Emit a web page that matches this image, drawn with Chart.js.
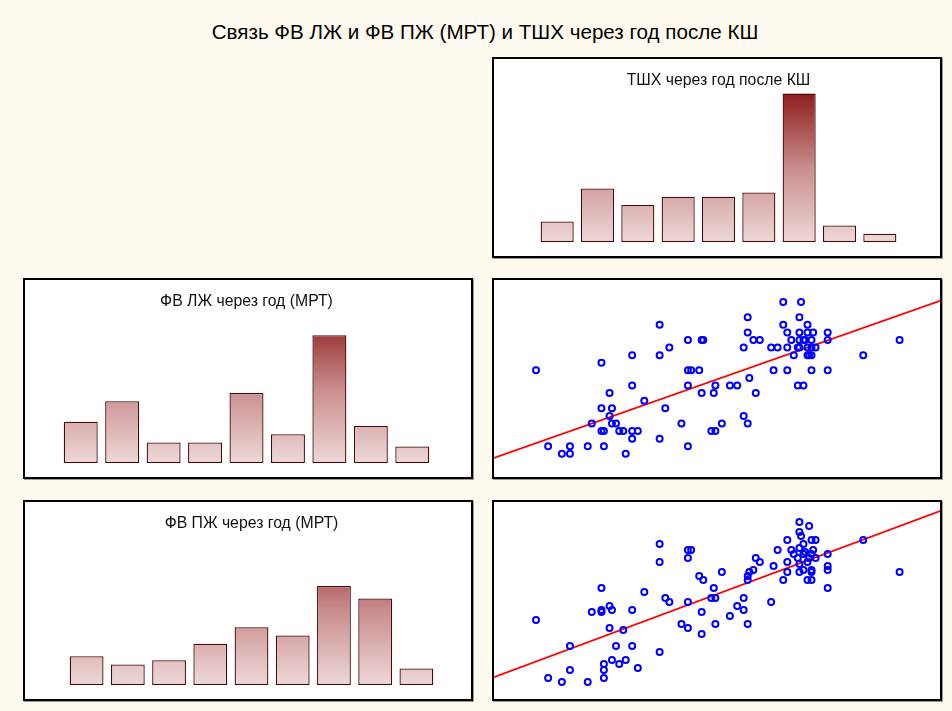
<!DOCTYPE html>
<html>
<head>
<meta charset="utf-8">
<script src="https://cdn.jsdelivr.net/npm/chart.js@4"></script>
<style>
  body { margin: 0; background: #fefaef; font-family: "Liberation Sans", Arial, sans-serif; }
  #page { position: relative; width: 952px; height: 711px; }
  #mainTitle { position: absolute; left: 0; top: 20px; width: 970px; text-align: center; font-size: 20.6px; line-height: 24px; color: #000; }
  .panel { position: absolute; width: 446px; height: 197px; border: 2px solid #000; background: #fff; box-shadow: 1px 1px 0 #9a9a9a; }
  .panel canvas { display: block; }
</style>
</head>
<body>
<div id="page">
  <div id="mainTitle">Связь ФВ ЛЖ и ФВ ПЖ (МРТ) и ТШХ через год после КШ</div>
  <div class="panel" style="left:492px; top:57px;"><canvas id="histTshx" width="446" height="197"></canvas></div>
  <div class="panel" style="left:23px; top:278px;"><canvas id="histLv" width="446" height="197"></canvas></div>
  <div class="panel" style="left:492px; top:278px;"><canvas id="scatLv" width="446" height="197"></canvas></div>
  <div class="panel" style="left:23px; top:500px;"><canvas id="histRv" width="446" height="197"></canvas></div>
  <div class="panel" style="left:492px; top:500px;"><canvas id="scatRv" width="446" height="197"></canvas></div>
</div>
<script>
// histogram bins (counts per bin)
var tshxBins = ['150-200', '200-250', '250-300', '300-350', '350-400', '400-450', '450-500', '500-550', '550-600'];
var tshxCounts = [5, 13, 9, 11, 11, 12, 36, 4, 2];
var lvBins = ['30-34', '34-39', '39-43', '43-48', '48-52', '52-57', '57-61', '61-66', '66-70'];
var lvCounts = [10, 15, 5, 5, 17, 7, 31, 9, 4];
var rvBins = ['20-24', '24-29', '29-33', '33-38', '38-42', '42-47', '47-51', '51-56', '56-60'];
var rvCounts = [7, 5, 6, 10, 14, 12, 24, 21, 4];

// ТШХ (м) для каждого пациента, ФВ ЛЖ (%)
var lvX = [150, 165, 182, 192, 192, 214, 219, 231, 231, 231, 234, 234, 241, 241, 244, 244, 249, 253, 258, 261,
  269, 269, 269, 269, 276, 284, 303, 303, 303, 310, 315, 330, 338, 338, 342, 338, 338, 352, 355, 357,
  355, 367, 370, 372, 372, 380, 390, 399, 407, 407, 412, 412, 412, 414, 419, 422, 427, 441, 444, 449,
  456, 456, 461, 461, 461, 466, 469, 474, 476, 474, 476, 476, 476, 478, 481, 481, 483, 486, 486, 486,
  488, 486, 491, 491, 491, 493, 491, 496, 511, 511, 511, 555, 600];
var lvY = [52, 32, 30, 32, 30, 32, 38, 54, 42, 36, 36, 32, 46, 40, 42, 38, 38, 36, 36, 30,
  56, 48, 36, 34, 36, 44, 64, 56, 34, 42, 58, 38, 60, 52, 52, 48, 32, 52, 60, 60,
  46, 36, 46, 48, 36, 38, 48, 48, 58, 40, 66, 62, 38, 50, 60, 46, 60, 58, 52, 58,
  70, 64, 62, 58, 52, 60, 56, 58, 58, 48, 66, 62, 60, 70, 48, 60, 60, 64, 62, 58,
  56, 56, 60, 56, 52, 62, 58, 58, 62, 60, 52, 56, 60];

// ТШХ (м), ФВ ПЖ (%)
var rvX = [150, 165, 182, 192, 192, 214, 219, 231, 231, 231, 234, 234, 234, 241, 241, 244, 244, 249, 253, 258,
  261, 269, 269, 276, 284, 303, 303, 303, 310, 315, 330, 338, 342, 338, 338, 338, 352, 357, 355, 355,
  370, 367, 372, 372, 380, 390, 399, 407, 407, 412, 412, 412, 414, 419, 422, 427, 441, 444, 449, 456,
  461, 461, 461, 466, 469, 474, 476, 476, 476, 476, 476, 478, 481, 481, 481, 483, 486, 486, 488, 488,
  491, 491, 491, 491, 491, 493, 496, 496, 511, 511, 511, 511, 555, 600];
var rvY = [35.5, 21, 20, 29, 23, 20, 37.5, 43.5, 38, 37.5, 24.5, 23, 21, 39, 33.5, 38, 25.5, 29, 24.5, 33,
  25.5, 38, 29, 23.5, 42.5, 54.5, 50, 27.5, 41, 40, 34.5, 53, 53, 51, 40, 33.5, 46.5, 45.5, 37.5, 32,
  43.5, 41, 41, 34.5, 47.5, 36.5, 39, 41, 38, 46.5, 45.5, 34.5, 47.5, 48, 51, 50, 40, 49, 53, 45.5,
  55.5, 50, 47.5, 53, 52, 51, 60, 57.5, 53.5, 49.5, 47.5, 56.5, 54.5, 48, 52, 52.5, 45.5, 50, 59, 51,
  55.5, 52, 48, 47.5, 45.5, 53, 55.5, 51, 52, 49, 48, 43.5, 55.5, 47.5];

// линии регрессии (концы)
var lvFit = [[98, 28.9], [650, 70.3]];
var rvFit = [[98, 21.2], [650, 62.75]];

function toPoints(xs, ys) {
  var pts = [];
  for (var i = 0; i < xs.length; i++) pts.push({ x: xs[i], y: ys[i] });
  return pts;
}

function barFill(context) {
  var area = context.chart.chartArea;
  if (!area) return '#d8a8a8';
  var g = context.chart.ctx.createLinearGradient(0, area.bottom, 0, area.top);
  g.addColorStop(0, '#eed8d8');
  g.addColorStop(0.5, '#c98c8c');
  g.addColorStop(1, '#8c1b1b');
  return g;
}

function makeHist(id, title, labels, counts, pad) {
  var ctx = document.getElementById(id).getContext('2d');
  return new Chart(ctx, {
    type: 'bar',
    data: {
      labels: labels,
      datasets: [{
        data: counts,
        backgroundColor: barFill,
        borderColor: '#4e0606',
        borderWidth: 1.3,
        borderSkipped: false,
        barPercentage: 0.82,
        categoryPercentage: 1
      }]
    },
    options: {
      responsive: false,
      animation: false,
      layout: { padding: pad, autoPadding: false },
      plugins: {
        legend: { display: false },
        tooltip: { enabled: false },
        title: {
          display: true,
          text: title,
          color: '#111',
          font: { family: '"Liberation Sans", Arial, sans-serif', size: 15.8, weight: 'normal' },
          padding: { top: 12, bottom: 2 }
        }
      },
      scales: {
        x: { display: false },
        y: { display: false, min: 0, max: 36.4 }
      }
    }
  });
}

function makeScatter(id, xs, ys, fit, yMin, yMax) {
  var ctx = document.getElementById(id).getContext('2d');
  return new Chart(ctx, {
    type: 'scatter',
    data: {
      datasets: [{
        data: toPoints(xs, ys),
        borderColor: '#0000ff',
        backgroundColor: 'rgba(0,0,0,0)',
        borderWidth: 2,
        pointRadius: 3,
        pointHoverRadius: 3
      }, {
        type: 'line',
        data: fit.map(function (p) { return { x: p[0], y: p[1] }; }),
        borderColor: '#ff0000',
        borderWidth: 1.8,
        pointRadius: 0,
        fill: false
      }]
    },
    options: {
      responsive: false,
      animation: false,
      layout: { padding: 0, autoPadding: false },
      plugins: {
        legend: { display: false },
        tooltip: { enabled: false }
      },
      scales: {
        x: { type: 'linear', display: false, min: 98, max: 650 },
        y: { type: 'linear', display: false, min: yMin, max: yMax }
      }
    }
  });
}

document.addEventListener('DOMContentLoaded', function () {
  makeHist('histTshx', 'ТШХ через год после КШ', tshxBins, tshxCounts, { left: 43, right: 40, bottom: 14 });
  makeHist('histLv', 'ФВ ЛЖ через год (МРТ)', lvBins, lvCounts, { left: 35, right: 38, bottom: 14 });
  makeHist('histRv', 'ФВ ПЖ через год (МРТ)', rvBins, rvCounts, { left: 41, right: 34, bottom: 14 });
  makeScatter('scatLv', lvX, lvY, lvFit, 23.9, 75.8);
  makeScatter('scatRv', rvX, rvY, rvFit, 15.75, 65);
});
</script>
</body>
</html>
